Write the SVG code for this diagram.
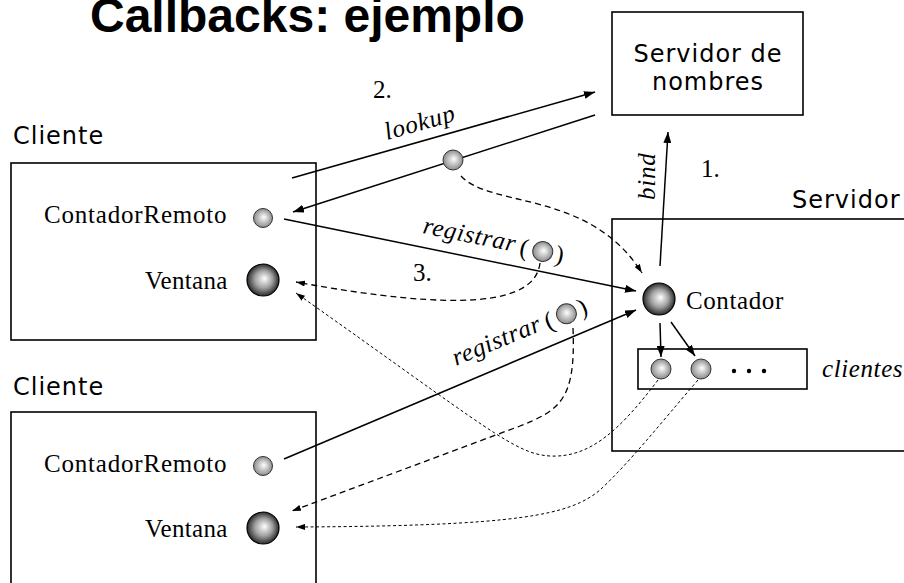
<svg xmlns="http://www.w3.org/2000/svg" width="904" height="583" viewBox="0 0 904 583">
  <style>
    .box { fill: none; stroke: #000; stroke-width: 1.6; }
    .label { font-family: "DejaVu Sans", "Liberation Sans", sans-serif; font-size: 24px; letter-spacing: 1px; fill: #000; }
    .serif { font-family: "Liberation Serif", "Times New Roman", serif; font-size: 25px; fill: #000; }
    .it { font-style: italic; }
    .title { font-family: "Liberation Sans", Arial, sans-serif; font-weight: bold; font-size: 48px; fill: #000; }
    .solid { fill: none; stroke: #000; stroke-width: 1.5; marker-end: url(#arrow); }
    .dash { fill: none; stroke: #000; stroke-width: 1.3; stroke-dasharray: 6 4; marker-end: url(#arrowSmall); }
    .dot { fill: none; stroke: #000; stroke-width: 1; stroke-dasharray: 3 2.5; marker-end: url(#arrowSmall); }
    .objS { fill: url(#sphereS); stroke: #333; stroke-width: 1; }
    .objL { fill: url(#sphereL); stroke: #000; stroke-width: 1.2; }
  </style>
  <defs>
    <radialGradient id="sphereS" cx="50%" cy="50%" r="50%" fx="55%" fy="45%">
      <stop offset="0%" stop-color="#ffffff"/>
      <stop offset="100%" stop-color="#8c8c8c"/>
    </radialGradient>
    <radialGradient id="sphereL" cx="50%" cy="50%" r="50%" fx="55%" fy="45%">
      <stop offset="0%" stop-color="#ffffff"/>
      <stop offset="55%" stop-color="#a0a0a0"/>
      <stop offset="100%" stop-color="#2a2a2a"/>
    </radialGradient>
    <marker id="arrow" markerUnits="userSpaceOnUse" markerWidth="11" markerHeight="8" refX="11" refY="4" orient="auto">
      <path d="M0,0 L11,4 L0,8 z" fill="#000"/>
    </marker>
    <marker id="arrowSmall" markerUnits="userSpaceOnUse" markerWidth="9" markerHeight="6" refX="9" refY="3" orient="auto">
      <path d="M0,0 L9,3 L0,6 z" fill="#000"/>
    </marker>
    <!-- "registrar (o)" call label, drawn along its connector -->
    <g id="regLabel">
      <text class="serif it" x="0" y="0" letter-spacing="0.7">registrar</text>
      <text class="serif" x="99" y="2" font-size="27">(</text>
      <circle class="objS" cx="122" cy="-6" r="10"/>
      <text class="serif" x="135" y="2" font-size="27">)</text>
    </g>
  </defs>

  <rect width="904" height="583" fill="#fff"/>

  <text class="title" x="90" y="32">Callbacks: ejemplo</text>

  <!-- name server -->
  <g id="servidor-nombres">
    <rect class="box" x="612" y="12" width="191" height="103"/>
    <text class="label" x="708" y="62" text-anchor="middle">Servidor de</text>
    <text class="label" x="708" y="90" text-anchor="middle">nombres</text>
  </g>

  <!-- first client -->
  <g id="cliente1">
    <text class="label" x="13" y="144">Cliente</text>
    <rect class="box" x="11" y="163" width="305" height="177"/>
    <text class="serif" x="44" y="223" letter-spacing="0.8">ContadorRemoto</text>
    <circle class="objS" cx="263" cy="218" r="9.5"/>
    <text class="serif" x="145" y="289" letter-spacing="0.3">Ventana</text>
    <circle class="objL" cx="263" cy="280" r="16"/>
  </g>

  <!-- second client -->
  <g id="cliente2">
    <text class="label" x="13" y="395">Cliente</text>
    <rect class="box" x="11" y="412" width="305" height="190"/>
    <text class="serif" x="44" y="472" letter-spacing="0.8">ContadorRemoto</text>
    <circle class="objS" cx="263" cy="466" r="9.5"/>
    <text class="serif" x="145" y="537" letter-spacing="0.3">Ventana</text>
    <circle class="objL" cx="263" cy="528" r="16"/>
  </g>

  <!-- server with the counter and its client list -->
  <g id="servidor">
    <text class="label" x="792" y="208">Servidor</text>
    <rect class="box" x="612" y="219" width="310" height="232"/>
    <circle class="objL" cx="659" cy="299" r="16"/>
    <text class="serif" x="686" y="309" letter-spacing="0.6">Contador</text>
  </g>

  <g id="clientes">
    <rect class="box" x="638" y="349" width="169" height="40"/>
    <circle class="objS" cx="661" cy="369" r="10"/>
    <circle class="objS" cx="701" cy="369" r="10"/>
    <circle cx="734" cy="371" r="2.2"/>
    <circle cx="749" cy="371" r="2.2"/>
    <circle cx="764" cy="371" r="2.2"/>
    <text class="serif it" x="822" y="377" letter-spacing="0.6">clientes</text>
  </g>

  <!-- connectors -->
  <g id="connectors">
    <!-- 1. bind -->
    <line class="solid" x1="660" y1="266" x2="668" y2="132"/>
    <!-- 2. lookup -->
    <line class="solid" x1="292" y1="178" x2="595" y2="92"/>
    <line class="solid" x1="595" y1="115" x2="293" y2="212"/>
    <!-- registrar calls -->
    <line class="solid" x1="284" y1="219" x2="636" y2="291"/>
    <line class="solid" x1="284" y1="459" x2="636" y2="310"/>
    <!-- counter to client list -->
    <line class="solid" x1="660" y1="323" x2="661" y2="357"/>
    <line class="solid" x1="671" y1="322" x2="695" y2="356"/>
    <!-- references handed over -->
    <path class="dash" d="M461,176 C490,208 590,190 642,273"/>
    <path class="dash" d="M540,263 C535,305 460,312 296,282"/>
    <path class="dash" d="M573,328 C576,400 560,410 520,426 L292,511"/>
    <!-- callbacks to the windows -->
    <path class="dot" d="M658,380 C620,430 590,458 550,456 C515,454 490,430 296,293"/>
    <path class="dot" d="M698,380 C660,424 630,462 600,490 C570,515 520,526 296,527"/>
  </g>

  <!-- remote reference returned by lookup -->
  <circle class="objS" cx="453" cy="160" r="10"/>

  <!-- connector labels -->
  <g id="connector-labels">
    <text class="serif" x="701" y="177">1.</text>
    <text class="serif it" transform="translate(655,200) rotate(-90)" letter-spacing="0.8">bind</text>
    <text class="serif" x="373" y="98">2.</text>
    <text class="serif it" transform="translate(387,140) rotate(-15.8)" letter-spacing="0.8">lookup</text>
    <text class="serif" x="413" y="281">3.</text>
    <use href="#regLabel" transform="translate(422,233) rotate(11.5)"/>
    <use href="#regLabel" transform="translate(456,366) rotate(-22.5)"/>
  </g>
</svg>
